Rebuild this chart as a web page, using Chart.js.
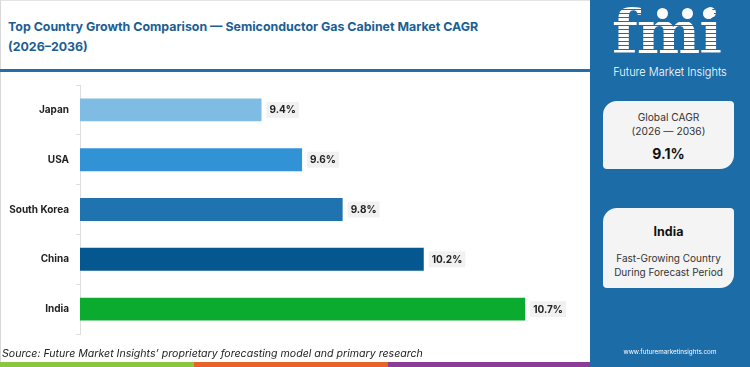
<!DOCTYPE html>
<html>
<head>
<meta charset="utf-8">
<script src="https://cdn.jsdelivr.net/npm/chart.js@4.4.1/dist/chart.umd.min.js"></script>
<style>
html,body{margin:0;padding:0;background:#fff;}
#wrap{position:relative;width:750px;height:367px;overflow:hidden;font-family:Inter,"Open Sans",sans-serif;background:#fff;}
#title{position:absolute;left:8px;top:17px;font-size:12.4px;line-height:20px;font-weight:700;color:#1b5e93;white-space:nowrap;}
#rule{position:absolute;left:0;top:69px;width:590px;height:3px;background:#1f6fa8;}
#lborder{position:absolute;left:0;top:0;width:1px;height:362px;background:#d8d8d8;}
#tborder{position:absolute;left:0;top:0;width:590px;height:1px;background:#e4e4e4;}
#chartbox{position:absolute;left:0;top:72px;width:590px;height:275px;}
#source{position:absolute;left:2px;top:346px;font-size:10.6px;line-height:16px;font-style:italic;color:#222;white-space:nowrap;}
.strip{position:absolute;top:362px;height:5px;}
#panel{position:absolute;left:590px;top:0;width:160px;height:367px;background:#1c6ca8;}
#logo{position:absolute;left:22px;top:2px;font-family:"DejaVu Serif",serif;font-weight:700;font-size:60px;line-height:60px;letter-spacing:-1px;
  background:repeating-linear-gradient(180deg,#fff 0px,#fff 3px,#1c6ca8 3px,#1c6ca8 4px);-webkit-background-clip:text;background-clip:text;color:transparent;}
.dot{position:absolute;width:11px;height:11px;border-radius:50%;background:#fff;top:8px;}
#logotext{position:absolute;left:0;width:160px;top:64px;text-align:center;font-size:11px;color:#fff;line-height:16px;font-weight:300;}
.box{position:absolute;left:13px;width:131px;background:#f4f4f4;border-radius:14px 4px 14px 4px;text-align:center;color:#333;}
.t{position:absolute;left:0;width:100%;text-align:center;white-space:nowrap;}
#url{position:absolute;left:0;width:160px;top:346px;text-align:center;font-size:6.3px;color:#fff;line-height:12px;}
</style>
</head>
<body>
<div id="wrap">
  <div id="tborder"></div>
  <div id="lborder"></div>
  <div id="title"></div>
  <div id="rule"></div>
  <div id="chartbox"><canvas id="c" width="590" height="275"></canvas></div>
  <div id="source"></div>
  <div class="strip" style="left:0;width:194px;background:#8cc63f;"></div>
  <div class="strip" style="left:194px;width:194px;background:#e8622c;"></div>
  <div class="strip" style="left:388px;width:202px;background:#8b3c97;"></div>
  <div id="panel">
    <div id="logo">fmi</div>
    <div class="dot" style="left:67px;"></div>
    <div class="dot" style="left:92px;"></div>
    <div class="dot" style="left:113px;"></div>
    <div id="logotext">Future Market Insights</div>
    <div class="box" style="top:101px;height:68px;">
      <div class="t" id="g1" style="top:9px;font-size:10.2px;line-height:14px;"></div>
      <div class="t" id="g2" style="top:23px;font-size:10.2px;line-height:14px;"></div>
      <div class="t" id="g3" style="top:42px;font-size:14px;line-height:22px;font-weight:700;color:#111;"></div>
    </div>
    <div class="box" style="top:208px;height:80px;">
      <div class="t" id="h1" style="top:14px;font-size:12.5px;line-height:20px;font-weight:700;color:#111;"></div>
      <div class="t" id="h2" style="top:43px;font-size:10px;line-height:14px;"></div>
      <div class="t" id="h3" style="top:57px;font-size:10px;line-height:14px;"></div>
    </div>
    <div id="url">www.futuremarketinsights.com</div>
  </div>
</div>
<script>
const titleLines = ["Top Country Growth Comparison \u2014 Semiconductor Gas Cabinet Market CAGR", "(2026\u20132036)"];
const categories = ["Japan", "USA", "South Korea", "China", "India"];
const cagrValues = [9.4, 9.6, 9.8, 10.2, 10.7];
const barColors = ["#7fbce3", "#3193d6", "#1f74b0", "#05588f", "#0aab2f"];
const globalCagrText = ["Global CAGR", "(2026 \u2014 2036)", "9.1%"];
const highlightText = ["India", "Fast-Growing Country", "During Forecast Period"];
const sourceText = "Source: Future Market Insights\u2019 proprietary forecasting model and primary research";

document.getElementById('title').innerHTML = titleLines.join('<br>');
document.getElementById('source').textContent = sourceText;
['g1','g2','g3'].forEach((id,i)=>document.getElementById(id).textContent = globalCagrText[i]);
['h1','h2','h3'].forEach((id,i)=>document.getElementById(id).textContent = highlightText[i]);

const valueLabels = {
  id:'valueLabels',
  afterDatasetsDraw(chart){
    const ctx = chart.ctx;
    const meta = chart.getDatasetMeta(0);
    ctx.save();
    ctx.font = 'bold 10px Inter, sans-serif';
    ctx.textBaseline = 'middle';
    ctx.textAlign = 'left';
    meta.data.forEach((bar,i)=>{
      const txt = cagrValues[i].toFixed(1) + '%';
      const w = ctx.measureText(txt).width;
      const x = bar.x + 4, y = bar.y;
      ctx.fillStyle = '#f1f1f1';
      ctx.fillRect(x, y - 8, w + 6, 16);
      ctx.fillStyle = '#222';
      ctx.fillText(txt, x + 3, y + 0.5);
    });
    ctx.restore();
  }
};

new Chart(document.getElementById('c'), {
  type: 'bar',
  data: {
    labels: categories,
    datasets: [{
      data: cagrValues,
      backgroundColor: barColors,
      borderColor: 'rgba(255,255,255,0.3)',
      borderWidth: 1,
      categoryPercentage: 0.5,
      barPercentage: 1.0
    }]
  },
  options: {
    indexAxis: 'y',
    responsive: false,
    animation: false,
    devicePixelRatio: 1,
    layout: { padding: { top: 4, right: 3, bottom: 5, left: 0 } },
    plugins: { legend: { display: false }, tooltip: { enabled: false } },
    scales: {
      x: { display: false, min: 8.5, max: 11.0 },
      y: {
        afterFit(s){ s.width = 80; },
        grid: { drawOnChartArea: false, tickLength: 4, color: '#dedede' },
        border: { color: '#dedede' },
        ticks: { padding: 7, color: '#222', font: { family: 'Inter', weight: 'bold', size: 10 } }
      }
    }
  },
  plugins: [valueLabels]
});
</script>
</body>
</html>
